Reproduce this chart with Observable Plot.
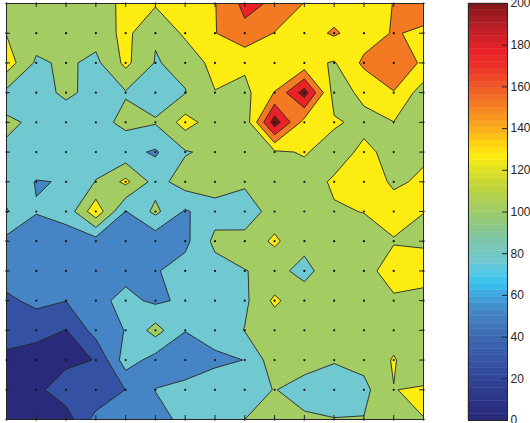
<!DOCTYPE html>
<html>
<head>
<meta charset="utf-8">
<script src="https://cdn.jsdelivr.net/npm/d3@7"></script>
<script src="https://cdn.jsdelivr.net/npm/@observablehq/plot@0.6"></script>
<style>
  html, body { margin: 0; padding: 0; background: #fff; }
  #chart { position: relative; width: 530px; height: 423px; overflow: hidden; }
  #field { position: absolute; left: 0; top: 0; }
  #bar { position: absolute; left: 460px; top: 0; }
</style>
</head>
<body>
<div id="chart"><div id="field"></div><div id="bar"></div></div>
<script>
// Sampled field, one array per grid row (top row first), 15 samples per row.
const row01 = [115, 112, 110, 113, 131, 128, 135, 149, 182, 171, 149, 138, 140, 150.5, 165];
const row02 = [124, 112, 108, 110, 132, 102, 130, 149, 168, 149, 140, 153, 138, 152, 145];
const row03 = [139, 96, 104, 94, 131, 98.5, 106, 135, 130, 127, 132, 123, 155, 158, 148];
const row04 = [94, 90, 105, 92, 98, 90, 99, 124, 118, 151, 212, 115, 130, 149.5, 112];
const row05 = [102, 98, 85, 90, 107, 102, 135, 112, 108, 214, 140, 128, 119, 124.5, 117];
const row06 = [98, 90, 86, 88, 82, 72, 98, 106, 112, 121, 127, 115, 130, 118, 122];
const row07 = [88, 74, 76, 101, 131, 90, 112, 112, 104, 113, 115, 128, 136, 122, 128];
const row08 = [102, 76, 83, 142, 74, 106, 72, 90, 87, 110, 116, 123, 125.5, 133, 125.3];
const row09 = [68, 65, 65, 64, 62, 58, 69, 106, 108, 130, 104, 113, 117, 123.7, 121];
const row10 = [60, 55, 55, 56, 67, 73, 85, 90, 99.5, 104, 96, 108, 118, 134, 138];
const row11 = [46, 55, 50.5, 68, 82, 70, 80, 88, 95, 130, 107, 112, 110, 122, 115];
const row12 = [38, 37, 24, 60, 76, 110, 75.5, 80, 101, 108, 112, 110, 112, 115, 110];
const row13 = [18, 8, 18, 26, 88, 65, 65, 72.5, 75.2, 115, 110, 102, 108, 127, 106];
const row14 = [10, 18, 41, 25.5, 50.5, 75.5, 80, 82, 88, 101, 90, 85, 93, 124.5, 128];
const row15 = [8, 10, 12, 60, 62, 68, 80, 88, 100, 108, 104, 101, 101, 115, 124.7];

// Contour levels and colour bar ticks.
const levels = [0, 25, 50, 75, 100, 125, 150, 175, 200];
const barTicks = [0, 20, 40, 60, 80, 100, 120, 140, 160, 180, 200];

// Colour map: anchor values and their colours.
const mapStops = [0, 12, 25, 37, 50, 58, 64, 69, 75, 85, 92, 100, 110, 118, 125, 131, 138, 144, 150, 160, 168, 175, 185, 192, 200];
const mapColors = ["#292a7b", "#2d3a8d", "#3551a3", "#3b66b0", "#4585c5", "#40a2dc", "#36c4f0", "#52c8e6", "#70c9d1", "#7cc6a8", "#8cc682", "#a3cd63", "#bed33c", "#dde025", "#fdec12", "#fed20c", "#f9ad1b", "#f7951e", "#f37a22", "#f0522a", "#ec3126", "#ea2227", "#c41f26", "#a01b1f", "#7a1517"];
const barSteps = 64;

const grid = [row01, row02, row03, row04, row05, row06, row07, row08, row09, row10, row11, row12, row13, row14, row15];
const ny = grid.length, nx = grid[0].length;
const values = grid.flat();
const points = grid.flatMap((row, j) => row.map((v, i) => ({i, j})));
const color = {type: "linear", domain: mapStops, range: mapColors, interpolate: "rgb"};
const ink = "#262626";

// Filled contour field with sample dots and a boxed frame.
const W = 430, H = 423, mL = 6, mR = 7, mT = 3, mB = 4;
const fw = W - mL - mR, fh = H - mT - mB, tick = 4;
const field = Plot.plot({
  width: W, height: H,
  marginLeft: mL, marginRight: mR, marginTop: mT, marginBottom: mB,
  x: {domain: [0, nx - 1], axis: null},
  y: {domain: [0, ny - 1], reverse: true, axis: null},
  color,
  marks: [
    Plot.contour(values, {
      width: nx, height: ny,
      x1: -0.5, x2: nx - 0.5, y1: -0.5, y2: ny - 0.5,
      fill: Plot.identity, thresholds: levels,
      stroke: ink, strokeWidth: 0.9, clip: true
    }),
    Plot.dot(points, {x: "i", y: "j", r: 1.1, fill: "#111", stroke: null}),
    Plot.tickX(d3.range(nx), {x: d => d, insetTop: fh - tick, stroke: ink}),
    Plot.tickX(d3.range(nx), {x: d => d, insetBottom: fh - tick, stroke: ink}),
    Plot.tickY(d3.range(ny), {y: d => d, insetRight: fw - tick, stroke: ink}),
    Plot.tickY(d3.range(ny), {y: d => d, insetLeft: fw - tick, stroke: ink}),
    Plot.frame({stroke: ink})
  ]
});
document.getElementById("field").append(field);

// Colour bar with 64 discrete steps.
const barMax = barTicks[barTicks.length - 1];
const bands = d3.range(barSteps).map(k => ({lo: k * barMax / barSteps, hi: (k + 1) * barMax / barSteps}));
const bw = 70, bL = 8, bR = 23;
const bar = Plot.plot({
  width: bw, height: H,
  marginLeft: bL, marginRight: bR, marginTop: 3, marginBottom: 3,
  x: {domain: [0, 1], axis: null},
  y: {domain: [0, barMax], axis: null},
  color,
  style: {fontFamily: "'Liberation Sans', Arial, sans-serif", color: ink, background: "transparent"},
  marks: [
    Plot.rect(bands, {x1: 0, x2: 1, y1: "lo", y2: "hi", fill: "lo", stroke: "lo", strokeWidth: 0.4}),
    Plot.tickY(barTicks, {y: d => d, insetLeft: bw - bL - bR - 5, stroke: ink}),
    Plot.frame({stroke: ink}),
    Plot.axisY(barTicks, {anchor: "right", tickSize: 0, tickPadding: 3, tickFormat: d => String(d), fontSize: 12, fill: ink})
  ]
});
document.getElementById("bar").append(bar);
</script>
</body>
</html>
